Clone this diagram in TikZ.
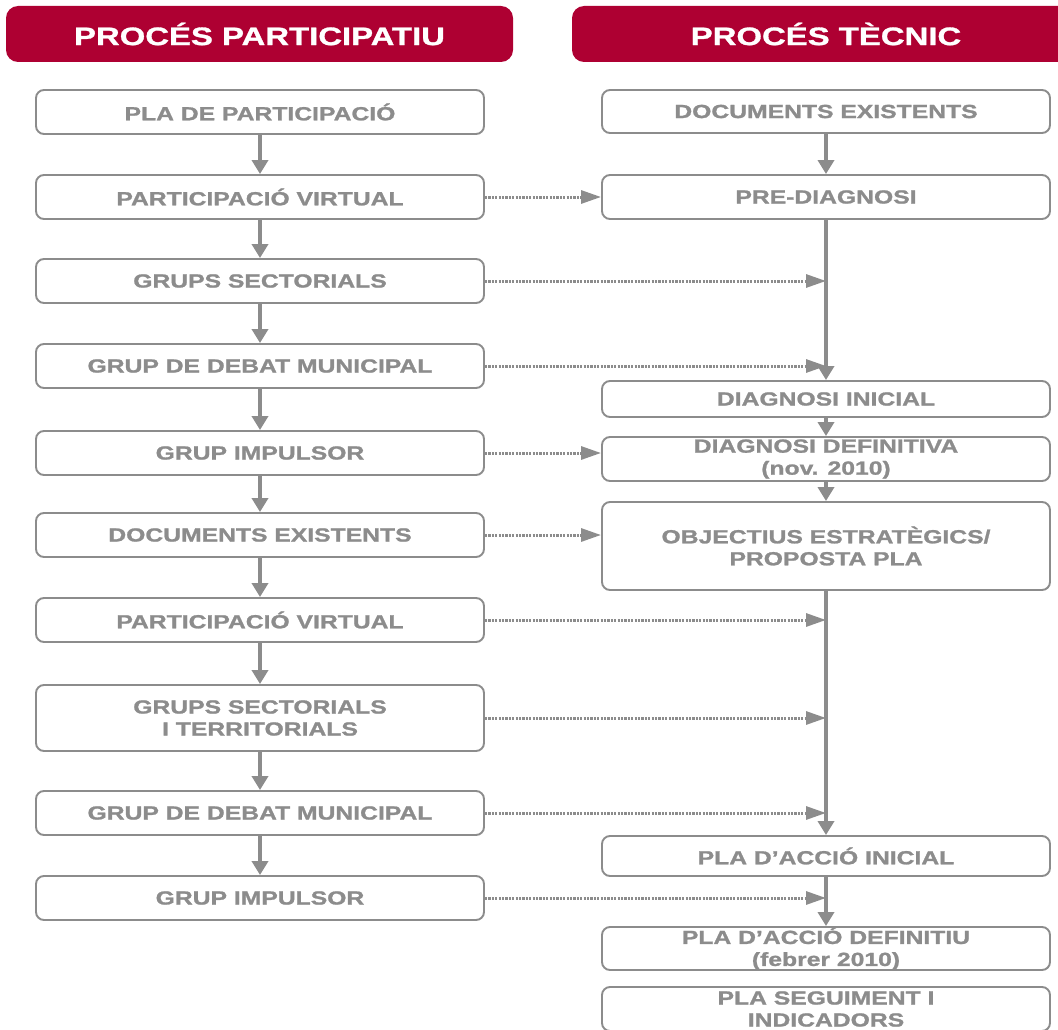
\documentclass[tikz,border=0pt]{standalone}
\usepackage{fontspec}
\setmainfont{Liberation Sans}
\newfontfamily\flowfont[FakeStretch=1.3, FakeBold=1.2]{Liberation Sans}
\usetikzlibrary{arrows.meta, positioning}
\definecolor{headred}{HTML}{AE0032}
\definecolor{flowgray}{HTML}{8C8C8C}

\tikzset{
	header/.style={fill=headred, rounded corners=12pt, minimum width=507pt, minimum height=56pt,
		text=white, inner sep=0pt, font=\flowfont\bfseries\fontsize{25.3}{28}\selectfont},
	flowbox/.style={draw=flowgray, line width=1.9pt, rounded corners=8pt, fill=white,
		minimum width=448pt, minimum height=44pt, inner sep=0pt, text=flowgray, align=center,
		font=\flowfont\bfseries\fontsize{19}{22}\selectfont},
	flowarrow/.style={draw=flowgray, line width=3.5pt, -{Triangle[length=14pt, width=16pt]}},
	linkarrow/.style={draw=flowgray, line width=3pt, dash pattern=on 2.2pt off 1.2pt,
		-{Triangle[length=20pt, width=13pt]}},
}

\begin{document}
\begin{tikzpicture}[x=1pt, y=-1pt]
	
	% marges de la figura
	\useasboundingbox (0, 0) rectangle (1058, 1030);
	
	% capçaleres
	\node[header] (hpart) at (259.5, 34) {PROCÉS PARTICIPATIU};
	\node[header, minimum width=508pt] (htec) at (826, 34) {PROCÉS TÈCNIC};
	
	% procés participatiu
	\node[flowbox] (l1) at (260, 112) {PLA DE PARTICIPACIÓ};
	\node[flowbox] (l2) at (260, 197) {PARTICIPACIÓ VIRTUAL};
	\node[flowbox] (l3) at (260, 281) {GRUPS SECTORIALS};
	\node[flowbox] (l4) at (260, 366) {GRUP DE DEBAT MUNICIPAL};
	\node[flowbox] (l5) at (260, 453) {GRUP IMPULSOR};
	\node[flowbox] (l6) at (260, 535) {DOCUMENTS EXISTENTS};
	\node[flowbox] (l7) at (260, 620) {PARTICIPACIÓ VIRTUAL};
	\node[flowbox, minimum height=66pt] (l8) at (260, 718) {GRUPS SECTORIALS\\I TERRITORIALS};
	\node[flowbox] (l9) at (260, 813) {GRUP DE DEBAT MUNICIPAL};
	\node[flowbox] (l10) at (260, 898) {GRUP IMPULSOR};
	
	% procés tècnic
	\node[flowbox, minimum height=43pt] (r1) at (826, 111.5) {DOCUMENTS EXISTENTS};
	\node[flowbox] (r2) at (826, 197) {PRE-DIAGNOSI};
	\node[flowbox, minimum height=36pt] (r3) at (826, 399) {DIAGNOSI INICIAL};
	\node[flowbox] (r4) at (826, 459) {DIAGNOSI DEFINITIVA\\(nov. 2010)};
	\node[flowbox, minimum height=88pt] (r5) at (826, 546) {OBJECTIUS ESTRATÈGICS/\\PROPOSTA PLA};
	\node[flowbox, minimum height=40pt] (r6) at (826, 856) {PLA D’ACCIÓ INICIAL};
	\node[flowbox, minimum height=43pt] (r7) at (826, 948.5) {PLA D’ACCIÓ DEFINITIU\\(febrer 2010)};
	\node[flowbox] (r8) at (826, 1009) {PLA SEGUIMENT I\\INDICADORS};
	
	% fletxes verticals, esquerra
	\draw[flowarrow] (l1.south) -- (l2.north);
	\draw[flowarrow] (l2.south) -- (l3.north);
	\draw[flowarrow] (l3.south) -- (l4.north);
	\draw[flowarrow] (l4.south) -- (l5.north);
	\draw[flowarrow] (l5.south) -- (l6.north);
	\draw[flowarrow] (l6.south) -- (l7.north);
	\draw[flowarrow] (l7.south) -- (l8.north);
	\draw[flowarrow] (l8.south) -- (l9.north);
	\draw[flowarrow] (l9.south) -- (l10.north);
	
	% fletxes verticals, dreta
	\draw[flowarrow] (r1.south) -- (r2.north);
	\draw[flowarrow] (r2.south) -- (r3.north);
	\draw[flowarrow] (r3.south) -- (r4.north);
	\draw[flowarrow] (r4.south) -- (r5.north);
	\draw[flowarrow] (r5.south) -- (r6.north);
	\draw[flowarrow] (r6.south) -- (r7.north);
	
	% enllaços puntejats
	\draw[linkarrow] (l2.east) -- (r2.west);
	\draw[linkarrow] (l3.east) -- (l3.east -| r2.south);
	\draw[linkarrow] (l4.east) -- (l4.east -| r2.south);
	\draw[linkarrow] (l5.east) -- (r4.west |- l5.east);
	\draw[linkarrow] (l6.east) -- (r5.west |- l6.east);
	\draw[linkarrow] (l7.east) -- (l7.east -| r5.south);
	\draw[linkarrow] (l8.east) -- (l8.east -| r5.south);
	\draw[linkarrow] (l9.east) -- (l9.east -| r5.south);
	\draw[linkarrow] (l10.east) -- (l10.east -| r6.south);
	
\end{tikzpicture}
\end{document}
